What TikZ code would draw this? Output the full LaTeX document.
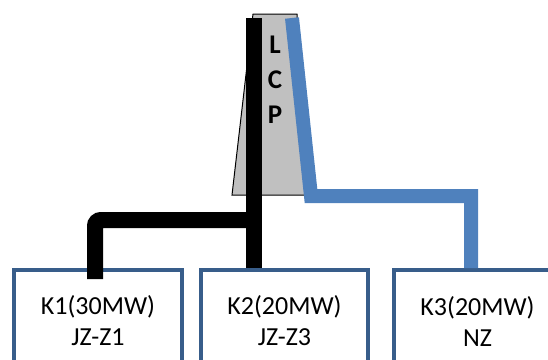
\documentclass[tikz,border=0pt]{standalone}
\usepackage{fontspec}
\setmainfont{Carlito}
\usetikzlibrary{positioning, calc}
\definecolor{boxblue}{RGB}{56, 93, 138}
\definecolor{lineblue}{RGB}{79, 129, 189}
\definecolor{poleg}{RGB}{192, 192, 192}

\begin{document}
\begin{tikzpicture}[
  x=1pt, y=-1pt,
  unit/.style={draw=boxblue, line width=4pt, fill=white, minimum width=168pt, minimum height=130pt, anchor=north west, inner sep=0},
  unittext/.style={font=\fontsize{26}{31}\selectfont, align=center},
  feeder/.style={line width=16pt, rounded corners=6pt},
  bluefeeder/.style={draw=lineblue, line width=14pt}
]
  \useasboundingbox (0,0) rectangle (548,359);
  \clip (0,0) rectangle (548,359);

  % Pole
  \draw[fill=poleg, line width=1pt] (253,14) -- (297,14) -- (305,195) -- (232,195) -- cycle;
  \node[font=\bfseries\fontsize{27}{35}\selectfont, align=center] (lcp) at (275,80) {L\\C\\P};

  % Units
  \node[unit] (k1) at (12,268) {};
  \node[unittext] (t1) at ([yshift=-53pt]k1.north) {K1(30MW)\\JZ-Z1};
  \node[unit, minimum width=167pt] (k2) at (199,268) {};
  \node[unittext] (t2) at ([yshift=-53pt]k2.north) {K2(20MW)\\JZ-Z3};
  \node[unit, minimum width=167pt] (k3) at (392,268) {};
  \node[unittext] (t3) at ([yshift=-53pt]k3.north) {K3(20MW)\\NZ};

  % Feeders
  \coordinate (bt) at (254,18);
  \coordinate (bj) at (254,220);
  \coordinate (bk) at (95,220);
  \coordinate (be) at (95,279);
  \draw[feeder] (bt) -- (bt |- k2.north);
  \draw[feeder] (bj) -- (bk) -- (be);

  \coordinate (ct) at (292,18);
  \coordinate (cb) at (311,196);
  \coordinate (cr) at (471,196);
  \draw[bluefeeder] (ct) -- (cb) -- (cr) -- (cr |- k3.north);
\end{tikzpicture}
\end{document}
